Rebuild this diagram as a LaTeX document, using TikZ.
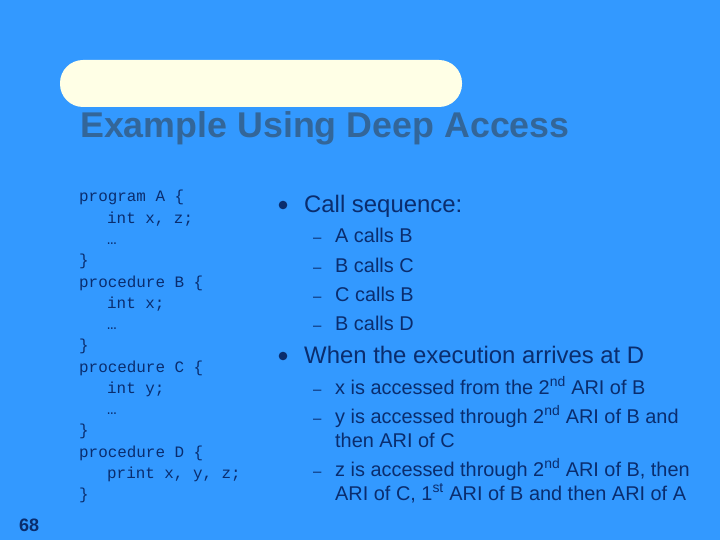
\documentclass[tikz,border=0pt]{standalone}
\usepackage{fontspec}
\setmainfont{Liberation Sans}
\newfontfamily\codefont{Liberation Mono}
\definecolor{bg}{HTML}{3399FF}
\definecolor{ttl}{HTML}{336699}
\definecolor{txt}{HTML}{0A2D6E}
\definecolor{pill}{HTML}{FFFFE6}
\begin{document}
\begin{tikzpicture}[x=1pt,y=-1pt,
  code/.style={anchor=base west,inner sep=0,text=txt,font=\codefont\fontsize{15.9}{18}\selectfont},
  big/.style={anchor=base west,inner sep=0,text=txt,font=\fontsize{23.9}{28}\selectfont},
  sub/.style={anchor=base west,inner sep=0,text=txt,font=\fontsize{19.9}{24}\selectfont},
  dsh/.style={anchor=base west,inner sep=0,text=txt,font=\fontsize{15}{18}\selectfont}]
\fill[bg] (0,0) rectangle (720,540);
\useasboundingbox (0,0) rectangle (720,540);
\fill[pill,rounded corners=23pt] (60,60) rectangle (462,107);
\node[anchor=base west,inner sep=0,text=ttl,font=\bfseries\fontsize{35.8}{40}\selectfont] (title) at (80,138) {Example Using Deep Access};
% code
\foreach \t/\xx/\yy [count=\i] in {program A \{/79/202, int x{,} z;/107/223, …/107/244, \}/79/265, procedure B \{/79/287, int x;/107/308, …/107/329, \}/79/350, procedure C \{/79/372, int y;/107/393, …/107/414, \}/79/435, procedure D \{/79/457, print x{,} y{,} z;/107/478, \}/79/499}
  \node[code] (c\i) at (\xx,\yy) {\t};
% bullets
\fill[txt] (283,205) circle (4.3);
\node[big] (b1) at (304,213) {Call sequence:};
\foreach \t/\yy [count=\i] in {A calls B/243, B calls C/272, C calls B/301, B calls D/330}{
  \node[dsh] (d\i) at (313,\yy) {–};
  \node[sub] (s\i) at (335,\yy) {\t};}
\fill[txt] (283,356) circle (4.3);
\node[big] (b2) at (304,363) {When the execution arrives at D};
\node[dsh] (e1) at (313,394) {–};
\node[sub] (t1) at (335,394) {x is accessed from the 2\textsuperscript{nd} ARI of B};
\node[dsh] (e2) at (313,423) {–};
\node[sub] (t2) at (335,423) {y is accessed through 2\textsuperscript{nd} ARI of B and};
\node[sub] (t3) at (335,447) {then ARI of C};
\node[dsh] (e3) at (313,476) {–};
\node[sub] (t4) at (335,476) {z is accessed through 2\textsuperscript{nd} ARI of B, then};
\node[sub] (t5) at (335,500) {ARI of C, 1\textsuperscript{st} ARI of B and then ARI of A};
\node[anchor=base west,inner sep=0,text=txt,font=\bfseries\fontsize{18}{20}\selectfont] (pg) at (19,531) {68};
\end{tikzpicture}
\end{document}
